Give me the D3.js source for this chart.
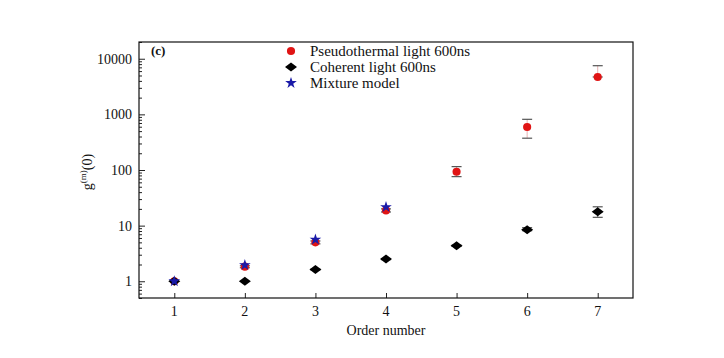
<!DOCTYPE html>
<html>
<head>
<meta charset="utf-8">
<script src="https://cdn.jsdelivr.net/npm/d3@7"></script>
<style>
  body { margin: 0; background: #fff; }
  svg text { font-family: "Liberation Serif", "DejaVu Serif", serif; fill: #111; }
</style>
</head>
<body>
<div id="chart"></div>
<script>
// data
var orders = [1, 2, 3, 4, 5, 6, 7];
var thermal = [1, 1.83, 5.0, 18.8, 93, 593, 4700];
var thermalHi = [1, 1.9, 5.3, 20, 115, 815, 7500];
var thermalLo = [1, 1.75, 4.7, 17.6, 76, 373, 4700];
var coherent = [1, 1, 1.62, 2.5, 4.34, 8.4, 17.8];
var coherentHi = [1, 1, 1.65, 2.55, 4.45, 9.2, 21.8];
var coherentLo = [1, 1, 1.6, 2.45, 4.25, 8.1, 14.1];
var mixOrders = [1, 2, 3, 4];
var mixture = [1, 1.95, 5.6, 21.6];
var yTicks = [1, 10, 100, 1000, 10000];
var legendLabels = ["Pseudothermal light 600ns", "Coherent light 600ns", "Mixture model"];

var width = 724, height = 358;
var margin = {top: 42, right: 91, bottom: 60, left: 139};

var svg = d3.select("#chart").append("svg")
  .attr("width", width)
  .attr("height", height);

var x = d3.scaleLinear().domain([0.5, 7.5]).range([margin.left, width - margin.right]);
var y = d3.scaleLog().domain([0.5, 20000]).range([height - margin.bottom, margin.top]);

// minor ticks on log axis
var minor = [];
[0.1, 1, 10, 100, 1000, 10000].forEach(function(dec) {
  for (var k = 2; k <= 9; k++) {
    var v = dec * k;
    if (v >= 0.5 && v <= 20000) minor.push(v);
  }
});

// y axis
svg.append("g")
  .attr("transform", "translate(" + margin.left + ",0)")
  .call(d3.axisRight(y).tickValues(minor).tickSize(3).tickFormat(""))
  .call(function(g) { g.select(".domain").remove(); g.selectAll("line").attr("stroke", "#222"); });

svg.append("g")
  .attr("transform", "translate(" + margin.left + ",0)")
  .call(d3.axisRight(y).tickValues(yTicks).tickSize(6).tickFormat(""))
  .call(function(g) { g.select(".domain").remove(); g.selectAll("line").attr("stroke", "#222"); });

svg.append("g")
  .selectAll("text")
  .data(yTicks)
  .enter().append("text")
  .attr("x", margin.left - 7)
  .attr("y", function(d) { return y(d) + 5; })
  .attr("text-anchor", "end")
  .style("font-size", "14px")
  .text(function(d) { return d; });

// x axis
svg.append("g")
  .attr("transform", "translate(0," + (height - margin.bottom) + ")")
  .call(d3.axisTop(x).tickValues(orders).tickSize(5).tickFormat(""))
  .call(function(g) { g.select(".domain").remove(); g.selectAll("line").attr("stroke", "#222"); });

svg.append("g")
  .selectAll("text")
  .data(orders)
  .enter().append("text")
  .attr("x", function(d) { return x(d); })
  .attr("y", height - margin.bottom + 18)
  .attr("text-anchor", "middle")
  .style("font-size", "14px")
  .text(function(d) { return d; });

// frame
svg.append("rect")
  .attr("x", margin.left)
  .attr("y", margin.top)
  .attr("width", width - margin.left - margin.right)
  .attr("height", height - margin.top - margin.bottom)
  .attr("fill", "none")
  .attr("stroke", "#111")
  .attr("stroke-width", 1.2);

// axis titles
svg.append("text")
  .attr("x", x(4))
  .attr("y", 335)
  .attr("text-anchor", "middle")
  .style("font-size", "14px")
  .text("Order number");

var yl = svg.append("text")
  .attr("transform", "translate(92,172) rotate(-90)")
  .attr("text-anchor", "middle")
  .style("font-size", "14px");
yl.append("tspan").text("g");
yl.append("tspan").attr("dy", -6).style("font-size", "9px").text("(m)");
yl.append("tspan").attr("dy", 6).text("(0)");

svg.append("text")
  .attr("x", 151)
  .attr("y", 55)
  .style("font-size", "13px")
  .style("font-weight", "bold")
  .text("(c)");

// error bars
function errorBars(hi, lo, color) {
  var g = svg.append("g");
  orders.forEach(function(o, i) {
    if (hi[i] - lo[i] < 1e-9) return;
    g.append("line")
      .attr("x1", x(o)).attr("x2", x(o))
      .attr("y1", y(hi[i])).attr("y2", y(lo[i]))
      .attr("stroke", color).attr("stroke-width", 0.8);
    [hi[i], lo[i]].forEach(function(v) {
      g.append("line")
        .attr("x1", x(o) - 5).attr("x2", x(o) + 5)
        .attr("y1", y(v)).attr("y2", y(v))
        .attr("stroke", "#555").attr("stroke-width", 1.2);
    });
  });
}
errorBars(thermalHi, thermalLo, "#e0a0a0");
errorBars(coherentHi, coherentLo, "#444");

var circle = d3.symbol().type(d3.symbolCircle).size(52);
var diamond = "M-6,0L0,-4.5L6,0L0,4.5Z";
var star = d3.symbol().type(d3.symbolStar).size(42);

svg.append("g").selectAll("path")
  .data(thermal)
  .enter().append("path")
  .attr("d", circle)
  .attr("transform", function(d, i) { return "translate(" + x(orders[i]) + "," + y(d) + ")"; })
  .attr("fill", "#e01414");

svg.append("g").selectAll("path")
  .data(coherent)
  .enter().append("path")
  .attr("d", diamond)
  .attr("transform", function(d, i) { return "translate(" + x(orders[i]) + "," + y(d) + ")"; })
  .attr("fill", "#000");

svg.append("g").selectAll("path")
  .data(mixture)
  .enter().append("path")
  .attr("d", star)
  .attr("transform", function(d, i) { return "translate(" + x(mixOrders[i]) + "," + y(d) + ")"; })
  .attr("fill", "#1a1aa8");

// legend
var legend = svg.append("g").selectAll("g")
  .data(legendLabels)
  .enter().append("g")
  .attr("transform", function(d, i) { return "translate(291," + (51 + i * 16) + ")"; });

legend.append("path")
  .attr("d", function(d, i) { return i == 0 ? circle() : (i == 1 ? diamond : star()); })
  .attr("fill", function(d, i) { return ["#e01414", "#000", "#1a1aa8"][i]; });

legend.append("text")
  .attr("x", 19)
  .attr("y", 5)
  .style("font-size", "15px")
  .text(function(d) { return d; });
</script>
</body>
</html>
